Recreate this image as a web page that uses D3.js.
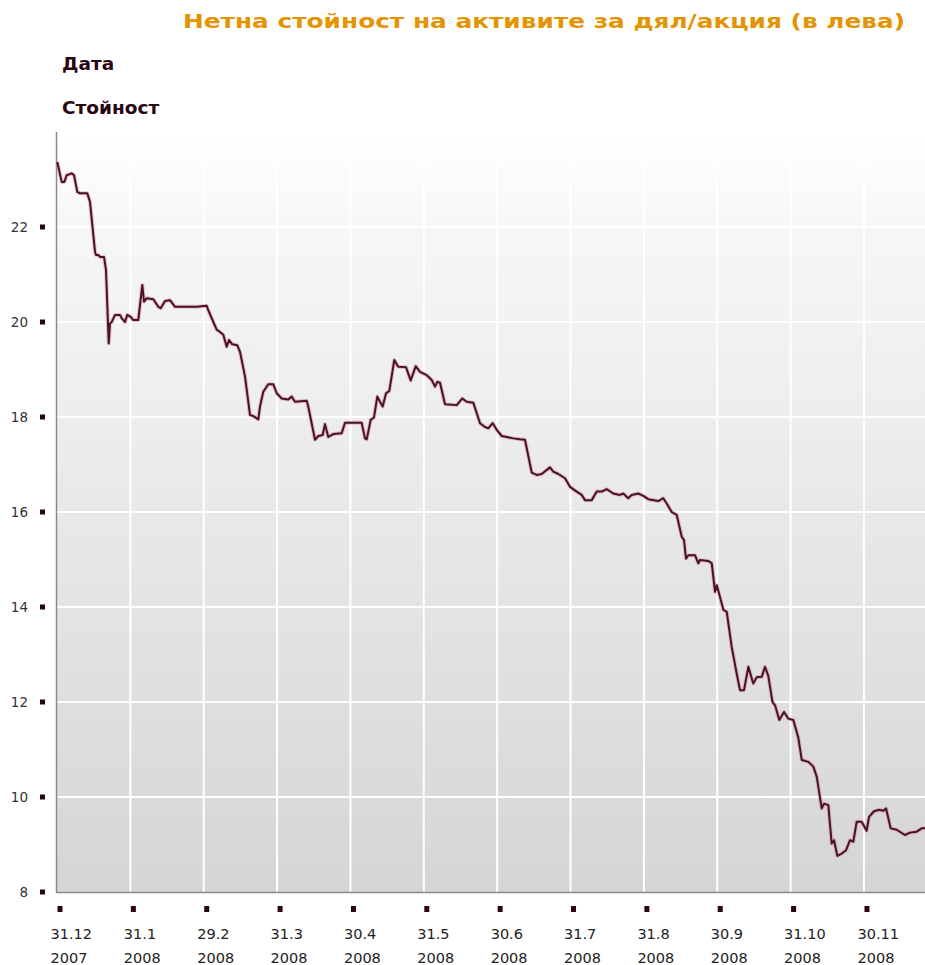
<!DOCTYPE html>
<html><head><meta charset="utf-8">
<script src="https://cdn.jsdelivr.net/npm/d3@7"></script>
<style>html,body{margin:0;padding:0;background:#fff;overflow:hidden}</style>
</head><body><svg id="c" width="925" height="965"></svg>
<script>
const titleText = "Нетна стойност на активите за дял/акция (в лева)";
const xAxisTitle = "Дата";
const yAxisTitle = "Стойност";
const xTickDays = ["31.12","31.1","29.2","31.3","30.4","31.5","30.6","31.7","31.8","30.9","31.10","30.11"];
const xTickYears = ["2007","2008","2008","2008","2008","2008","2008","2008","2008","2008","2008","2008"];
const yTicks = [8,10,12,14,16,18,20,22];
// position in months after 31.12.2007
const monthPos = [0.004,0.064,0.100,0.132,0.200,0.232,0.277,0.314,0.413,0.450,0.518,0.532,0.563,0.586,0.641,0.668,0.705,0.722,0.746,0.791,0.859,0.882,0.927,0.958,1.005,1.040,1.108,1.163,1.186,1.223,1.313,1.381,1.414,1.472,1.540,1.609,1.768,1.904,2.041,2.062,2.131,2.177,2.222,2.267,2.313,2.345,2.390,2.458,2.495,2.563,2.631,2.676,2.744,2.767,2.812,2.880,2.948,2.995,3.063,3.153,3.199,3.244,3.404,3.425,3.517,3.562,3.622,3.653,3.698,3.766,3.881,3.926,4.153,4.198,4.222,4.276,4.321,4.366,4.403,4.440,4.485,4.530,4.598,4.652,4.757,4.821,4.890,4.948,5.040,5.108,5.153,5.184,5.221,5.289,5.449,5.525,5.585,5.675,5.766,5.834,5.879,5.939,5.994,6.062,6.130,6.220,6.311,6.379,6.471,6.539,6.607,6.720,6.765,6.834,6.925,6.993,7.084,7.152,7.197,7.289,7.357,7.425,7.493,7.583,7.674,7.719,7.787,7.834,7.924,7.992,8.060,8.196,8.265,8.311,8.379,8.447,8.516,8.547,8.574,8.606,8.697,8.742,8.765,8.878,8.925,8.970,8.993,9.024,9.083,9.129,9.197,9.265,9.310,9.365,9.424,9.491,9.538,9.606,9.651,9.696,9.753,9.788,9.846,9.910,9.969,10.037,10.105,10.152,10.242,10.310,10.356,10.424,10.456,10.514,10.560,10.592,10.637,10.697,10.756,10.810,10.855,10.901,10.969,11.037,11.069,11.137,11.209,11.264,11.301,11.364,11.446,11.559,11.628,11.719,11.787,11.832];
const navValues = [23.37,22.95,22.95,23.09,23.13,23.09,22.74,22.71,22.71,22.53,21.48,21.41,21.41,21.37,21.37,21.09,19.55,19.97,20.00,20.15,20.15,20.08,20.00,20.15,20.11,20.04,20.04,20.78,20.43,20.50,20.48,20.32,20.29,20.44,20.46,20.32,20.32,20.32,20.34,20.25,20.00,19.84,19.79,19.73,19.48,19.62,19.53,19.51,19.37,18.85,18.04,18.02,17.95,18.22,18.53,18.69,18.69,18.50,18.39,18.37,18.43,18.32,18.34,18.22,17.52,17.60,17.62,17.85,17.58,17.64,17.66,17.88,17.88,17.55,17.53,17.94,17.99,18.43,18.32,18.22,18.50,18.55,19.20,19.06,19.05,18.77,19.07,18.95,18.88,18.78,18.64,18.74,18.72,18.27,18.25,18.39,18.32,18.30,17.87,17.79,17.76,17.87,17.73,17.60,17.58,17.55,17.53,17.52,16.83,16.78,16.80,16.94,16.85,16.80,16.71,16.53,16.43,16.36,16.25,16.25,16.43,16.43,16.48,16.39,16.36,16.39,16.29,16.36,16.39,16.34,16.27,16.23,16.29,16.18,16.00,15.94,15.48,15.41,15.02,15.09,15.09,14.92,14.99,14.97,14.92,14.32,14.46,14.29,13.94,13.90,13.16,12.60,12.25,12.25,12.74,12.39,12.52,12.53,12.74,12.55,12.00,11.93,11.62,11.79,11.65,11.62,11.25,10.78,10.74,10.64,10.43,9.76,9.86,9.83,9.02,9.09,8.76,8.81,8.88,9.09,9.06,9.48,9.48,9.29,9.58,9.70,9.73,9.71,9.76,9.34,9.31,9.20,9.25,9.27,9.34,9.34];

const svg = d3.select("#c");
const x = d3.scaleLinear().domain([0, 11.832]).range([57, 925]);
const y = d3.scaleLinear().domain([8, 24]).range([892, 132]);

const defs = svg.append("defs");
const g = defs.append("linearGradient").attr("id","bg").attr("x1",0).attr("y1",0).attr("x2",0).attr("y2",1);
g.append("stop").attr("offset","0").attr("stop-color","#ffffff");
g.append("stop").attr("offset","0.12").attr("stop-color","#f7f7f7");
g.append("stop").attr("offset","1").attr("stop-color","#d5d5d5");

svg.append("rect").attr("x",x(0)).attr("y",y(24))
  .attr("width",x.range()[1]-x(0)).attr("height",y(8)-y(24)).attr("fill","url(#bg)");

// grid
svg.append("g").selectAll("line").data(d3.range(1, xTickDays.length)).join("line")
  .attr("x1",d=>x(d)).attr("x2",d=>x(d)).attr("y1",y(24)+30).attr("y2",y(8))
  .attr("stroke","#fff").attr("stroke-width",2);
svg.append("g").selectAll("line").data(yTicks.filter(v=>v>8)).join("line")
  .attr("x1",x(0)).attr("x2",925).attr("y1",d=>y(d)).attr("y2",d=>y(d))
  .attr("stroke","#fff").attr("stroke-width",2);

// axes lines
svg.append("line").attr("x1",x(0)-0.5).attr("x2",x(0)-0.5).attr("y1",y(24)).attr("y2",y(8))
  .attr("stroke","#8a8a8a").attr("stroke-width",1.5);
svg.append("line").attr("x1",x(0)-1).attr("x2",925).attr("y1",y(8)+0.5).attr("y2",y(8)+0.5)
  .attr("stroke","#8a8a8a").attr("stroke-width",1.5);

// y ticks
const yt = svg.append("g").selectAll("g").data(yTicks).join("g");
yt.append("rect").attr("x",40).attr("y",d=>y(d)-2.5).attr("width",5).attr("height",5).attr("fill","#2a0512");
yt.append("text").attr("x",28).attr("y",d=>y(d)+5).attr("text-anchor","end")
  .attr("font-family","DejaVu Sans, Verdana, sans-serif").attr("font-size",13.5).attr("fill","#333")
  .text(d=>d);

// x ticks
const xt = svg.append("g").selectAll("g").data(xTickDays.map((d,i)=>[i,d,xTickYears[i]])).join("g");
xt.append("rect").attr("x",d=>x(d[0])+0.5).attr("y",906).attr("width",5).attr("height",6).attr("fill","#2a0512");
xt.append("text").attr("x",d=>x(d[0])-6.5).attr("y",939)
  .attr("font-family","DejaVu Sans, Verdana, sans-serif").attr("font-size",14.5).attr("fill","#222")
  .text(d=>d[1]);
xt.append("text").attr("x",d=>x(d[0])-6.5).attr("y",963)
  .attr("font-family","DejaVu Sans, Verdana, sans-serif").attr("font-size",14.5).attr("fill","#222")
  .text(d=>d[2]);

// line
const pts = monthPos.map((m,i)=>[m, navValues[i]]);
const line = d3.line().x(d=>x(d[0])).y(d=>y(d[1]));
svg.append("path").datum(pts).attr("d",line).attr("fill","none")
  .attr("stroke","#d08090").attr("stroke-opacity",0.45).attr("stroke-width",4).attr("stroke-linejoin","round");
svg.append("path").datum(pts).attr("d",line).attr("fill","none")
  .attr("stroke","#4a1222").attr("stroke-width",2).attr("stroke-linejoin","round");

// titles
svg.append("text").attr("x",183).attr("y",28).attr("font-family","DejaVu Sans, Verdana, sans-serif")
  .attr("font-weight","bold").attr("font-size",20).attr("fill","#e39400")
  .attr("textLength",722).attr("lengthAdjust","spacingAndGlyphs").text(titleText);
svg.append("text").attr("x",62).attr("y",70).attr("font-family","DejaVu Sans, Verdana, sans-serif")
  .attr("font-weight","bold").attr("font-size",18.5).attr("fill","#2b0612").text(xAxisTitle);
svg.append("text").attr("x",62).attr("y",114).attr("font-family","DejaVu Sans, Verdana, sans-serif")
  .attr("font-weight","bold").attr("font-size",18.5).attr("fill","#2b0612").text(yAxisTitle);
</script></body></html>
